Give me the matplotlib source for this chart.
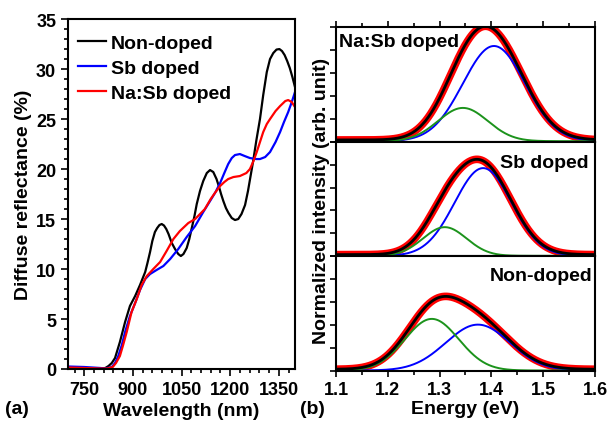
import numpy as np
import matplotlib
matplotlib.use("Agg")
import matplotlib.pyplot as plt
from matplotlib.ticker import MultipleLocator, NullFormatter

plt.rcParams['font.family'] = ['Liberation Sans', 'DejaVu Sans']
plt.rcParams['font.weight'] = 'bold'
plt.rcParams['axes.linewidth'] = 1.5

# ---- (a) diffuse reflectance spectra ----
wl_non = [700, 750, 800, 815, 825, 835, 845, 860, 876, 891, 907, 922, 938, 945, 953, 960,
          968, 975, 982, 989, 996, 1003, 1010, 1020, 1030, 1040, 1048, 1056, 1066, 1074,
          1081, 1090, 1097, 1107, 1117, 1128, 1138, 1148, 1158, 1165, 1172, 1179, 1187,
          1195, 1205, 1215, 1225, 1235, 1246, 1255, 1263, 1271, 1281, 1292, 1302, 1313,
          1323, 1333, 1343, 1352, 1360, 1368, 1376, 1384, 1392, 1400]
r_non = [0.15, 0.1, 0.05, 0.1, 0.3, 0.6, 1.1, 2.7, 4.7, 6.3, 7.3, 8.4, 9.7, 10.6, 11.7, 12.8,
         13.7, 14.1, 14.4, 14.5, 14.35, 14.0, 13.5, 12.6, 12.0, 11.5, 11.3, 11.5, 12.1, 13.0,
         14.0, 15.3, 16.5, 17.8, 18.8, 19.6, 19.9, 19.7, 19.0, 18.3, 17.5, 16.8, 16.1,
         15.6, 15.1, 14.9, 15.0, 15.5, 16.4, 17.8, 19.3, 20.8, 22.9, 25.0, 27.4, 29.7,
         31.0, 31.6, 31.95, 32.0, 31.8, 31.4, 30.8, 30.1, 29.2, 28.2]

wl_sb = [700, 750, 800, 815, 835, 845, 855, 866, 876, 891, 907, 922, 938, 953, 973, 994,
         1015, 1040, 1066, 1092, 1117, 1138, 1155, 1169, 1182, 1194, 1205, 1215, 1230,
         1245, 1261, 1280, 1292, 1308, 1323, 1340, 1354, 1366, 1379, 1390, 1400]
r_sb = [0.25, 0.2, 0.1, 0.05, 0.2, 0.6, 1.3, 2.4, 3.7, 5.3, 6.6, 7.9, 9.0, 9.5, 9.9, 10.3,
        11.0, 12.0, 13.2, 14.3, 15.7, 16.8, 17.7, 18.6, 19.6, 20.5, 21.1, 21.4, 21.5,
        21.3, 21.1, 21.0, 21.0, 21.2, 21.7, 22.7, 23.7, 24.7, 25.7, 26.7, 27.7]

wl_nasb = [700, 750, 800, 820, 838, 848, 860, 870, 881, 896, 912, 927, 943, 963, 984,
           1004, 1025, 1045, 1071, 1092, 1110, 1122, 1140, 1155, 1169, 1182, 1194, 1210,
           1230, 1250, 1261, 1272, 1282, 1292, 1302, 1313, 1323, 1340, 1354, 1370, 1379,
           1390, 1400]
r_nasb = [0.15, 0.1, 0.05, 0.05, 0.2, 0.6, 1.3, 2.4, 3.7, 5.7, 7.0, 8.4, 9.3, 10.0, 10.7,
          11.8, 13.0, 13.8, 14.6, 15.0, 15.6, 16.0, 17.0, 17.7, 18.3, 18.7, 19.0, 19.2,
          19.3, 19.6, 20.0, 20.8, 21.7, 22.7, 23.7, 24.5, 25.0, 25.8, 26.3, 26.8, 26.9,
          26.7, 26.2]

# ---- (b) PL spectra: two-Gaussian fits (amplitude, centre eV, sigma eV) ----
samples = ["Na:Sb doped", "Sb doped", "Non-doped"]
blue_amp = [0.83, 0.765, 0.40]
blue_cen = [1.405, 1.384, 1.374]
blue_sig = [0.060, 0.055, 0.062]
green_amp = [0.29, 0.25, 0.45]
green_cen = [1.345, 1.310, 1.285]
green_sig = [0.048, 0.042, 0.052]
offset = [0.015, 0.015, 0.015]

fig = plt.figure(figsize=(6.1, 4.27), dpi=100)

axa = fig.add_axes([0.1115, 0.1335, 0.3721, 0.8195])
axa.plot(wl_non, r_non, color='black', lw=1.6, label='Non-doped')
axa.plot(wl_sb, r_sb, color='blue', lw=1.6, label='Sb doped')
axa.plot(wl_nasb, r_nasb, color='red', lw=1.6, label='Na:Sb doped')
axa.set_xlim(700, 1400)
axa.set_ylim(0, 35)
axa.set_xticks([750, 900, 1050, 1200, 1350])
axa.xaxis.set_minor_locator(MultipleLocator(30))
axa.yaxis.set_major_locator(MultipleLocator(5))
axa.yaxis.set_minor_locator(MultipleLocator(1))
axa.tick_params(which='both', direction='out', labelsize=13, width=1.2)
axa.tick_params(which='major', length=5)
axa.tick_params(which='minor', length=3)
for lab in axa.get_xticklabels() + axa.get_yticklabels():
    lab.set_fontweight('bold')
axa.set_xlabel('Wavelength (nm)', fontsize=14, fontweight='bold', labelpad=3)
axa.set_ylabel('Diffuse reflectance (%)', fontsize=14, fontweight='bold', labelpad=3)
leg = axa.legend(loc='upper left', bbox_to_anchor=(0.0, 0.985), frameon=False,
                 fontsize=14, handlelength=1.45, handletextpad=0.25,
                 labelspacing=0.38, borderaxespad=0.1)
for t in leg.get_texts():
    t.set_fontweight('bold')
fig.text(0.008, 0.03, '(a)', fontsize=14, fontweight='bold')

# ---- (b) stacked panels ----
left_b, right_b, bot_b, top_b = 0.5508, 0.9754, 0.1288, 0.9344
h = (top_b - bot_b) / 3
E = np.linspace(1.1, 1.6, 600)
axes_b = []
for i in range(3):
    ax = fig.add_axes([left_b, top_b - (i + 1) * h, right_b - left_b, h])
    axes_b.append(ax)
    g_blue = blue_amp[i] * np.exp(-(E - blue_cen[i]) ** 2 / (2 * blue_sig[i] ** 2))
    g_green = green_amp[i] * np.exp(-(E - green_cen[i]) ** 2 / (2 * green_sig[i] ** 2))
    total = g_blue + g_green + offset[i]
    ax.plot(E, total, color='red', lw=5.5, solid_capstyle='butt')
    ax.plot(E, g_blue + offset[i] * 0.3, color='blue', lw=1.4)
    ax.plot(E, g_green + offset[i] * 0.3, color='#1c931c', lw=1.4)
    ax.plot(E, total, color='black', lw=2.0)
    ax.set_xlim(1.1, 1.6)
    ax.set_ylim(0, 1.0)
    ax.xaxis.set_major_locator(MultipleLocator(0.1))
    ax.xaxis.set_minor_locator(MultipleLocator(0.05))
    ax.yaxis.set_major_locator(MultipleLocator(0.2))
    ax.yaxis.set_major_formatter(NullFormatter())
    ax.tick_params(which='both', direction='out', width=1.2, right=False,
                   top=(i == 0), labeltop=False)
    ax.tick_params(which='major', length=4)
    ax.tick_params(which='minor', length=3)
    if i < 2:
        ax.tick_params(axis='x', labelbottom=False)
    else:
        ax.tick_params(axis='x', labelsize=13)
        for lab in ax.get_xticklabels():
            lab.set_fontweight('bold')

axes_b[0].text(0.01, 0.87, samples[0], transform=axes_b[0].transAxes, fontsize=14,
               fontweight='bold', ha='left', va='center')
axes_b[1].text(0.975, 0.82, samples[1], transform=axes_b[1].transAxes, fontsize=14,
               fontweight='bold', ha='right', va='center')
axes_b[2].text(0.99, 0.83, samples[2], transform=axes_b[2].transAxes, fontsize=14,
               fontweight='bold', ha='right', va='center')
axes_b[2].set_xlabel('Energy (eV)', fontsize=14, fontweight='bold', labelpad=1)
fig.text(0.527, 0.53, 'Normalized intensity (arb. unit)', rotation=90, fontsize=14,
         fontweight='bold', ha='center', va='center')
fig.text(0.492, 0.03, '(b)', fontsize=14, fontweight='bold')

fig.savefig('out.png', dpi=100)
